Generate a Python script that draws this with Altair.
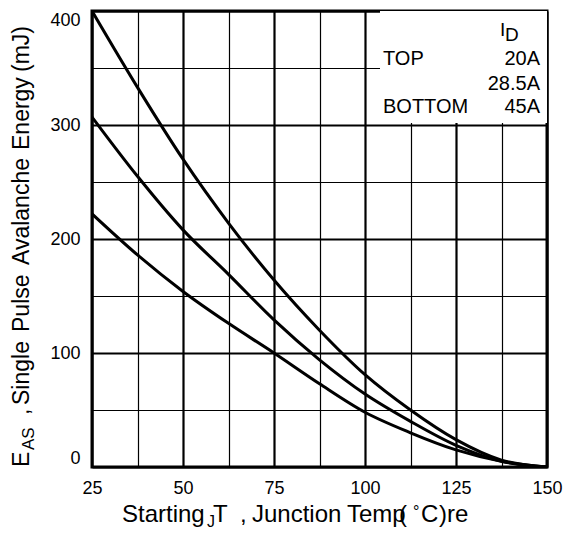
import altair as alt
import pandas as pd

# ---- data ----
temps = [25, 37.5, 50, 62.5, 75, 87.5, 100, 112.5, 125, 137.5, 150]
e_20a = [400, 333, 270, 214, 164, 120, 81, 50, 24, 6, 0]
e_285a = [307, 255, 208, 169, 129, 94, 64, 40, 19, 5, 0]
e_45a = [222, 186, 154, 126, 100, 73, 48, 30, 15, 5, 0]
series_names = ["20A", "28.5A", "45A"]

x_ticks = [25, 37.5, 50, 62.5, 75, 87.5, 100, 112.5, 125, 137.5, 150]
y_ticks = [0, 50, 100, 150, 200, 250, 300, 350, 400]

rows = []
for name, vals in zip(series_names, [e_20a, e_285a, e_45a]):
    for t, v in zip(temps, vals):
        rows.append({"T": t, "E": v, "ID": name})
df = pd.DataFrame(rows)

FONT = "Liberation Sans"

lines = alt.Chart(df).mark_line(
    interpolate="monotone", color="black", strokeWidth=3, clip=True
).encode(
    x=alt.X("T:Q", scale=alt.Scale(domain=[25, 150], nice=False, zero=False),
            axis=alt.Axis(values=x_ticks, title=None, tickSize=0, domain=False,
                          labelExpr="datum.value % 25 === 0 ? datum.label : ''",
                          labelFontSize=18, labelPadding=12, labelFlush=False,
                          labelColor="black", labelFont=FONT,
                          grid=True, gridColor="black", gridOpacity=1,
                          gridWidth={"expr": "datum.value % 25 === 0 ? 2.2 : 1.2"})),
    y=alt.Y("E:Q", scale=alt.Scale(domain=[0, 400], nice=False),
            axis=alt.Axis(values=y_ticks, title=None, tickSize=0, domain=False,
                          labelExpr="datum.value % 100 === 0 ? datum.label : ''",
                          labelFontSize=18, labelPadding=12, labelFlush=True,
                          labelColor="black", labelFont=FONT,
                          grid=True, gridColor="black", gridOpacity=1,
                          gridWidth={"expr": "datum.value % 100 === 0 ? 2.2 : 1.2"})),
    detail="ID:N",
)

legend_box = alt.Chart(pd.DataFrame({"a": [0]})).mark_rect(color="white").encode(
    x=alt.value(288), x2=alt.value(455), y=alt.value(0), y2=alt.value(112)
)


def txt(s, x, y, size=20, align="left", angle=0):
    return alt.Chart(pd.DataFrame({"t": [s]})).mark_text(
        text=s, font=FONT, fontSize=size, align=align, baseline="alphabetic",
        color="black", angle=angle
    ).encode(x=alt.value(x), y=alt.value(y))


layers = [lines, legend_box]
# legend texts (plot-area pixel coords)
layers += [
    txt("I", 408, 25, 19),
    txt("D", 413, 30, 19),
    txt("TOP", 291, 54, 20),
    txt("20A", 448, 54, 20, "right"),
    txt("28.5A", 448, 79, 20, "right"),
    txt("BOTTOM", 291, 102, 20),
    txt("45A", 448, 102, 20, "right"),
]
# x-axis title pieces (page x minus 92)
bx = 511
layers += [
    txt("Starting", 30, bx, 24),
    txt("J", 115, bx + 5, 16),
    txt("T", 121, bx, 24),
    txt(",", 148, bx, 24),
    txt("Junction", 160, bx, 24),
    txt("Temp", 255, bx, 24),
    txt("(", 307, bx, 24),
    txt("°", 321, bx - 5, 16),
    txt("C", 329, bx, 24),
    txt(")", 347, bx, 24),
    txt("re", 355, bx, 24),
]
# y-axis title pieces (rotated)
byx = -63
layers += [
    txt("E", byx, 456, 23, angle=270),
    txt("AS", byx + 5, 439, 17, angle=270),
    txt(",", byx, 404, 23, angle=270),
    txt("Single", byx, 394, 23, angle=270),
    txt("Pulse", byx, 321, 23, angle=270),
    txt("Avalanche", byx, 254, 23, angle=270),
    txt("Energy", byx, 139, 23, angle=270),
    txt("(mJ)", byx, 61, 23, angle=270),
]

chart = alt.layer(*layers).properties(
    width=455, height=456,
    padding={"left": 84, "top": 3, "right": 16, "bottom": 64},
    autosize=alt.AutoSizeParams(type="none"),
).configure_view(stroke="black", strokeWidth=3)

chart.save("out.html", embed_options={"renderer": "svg", "actions": False})
